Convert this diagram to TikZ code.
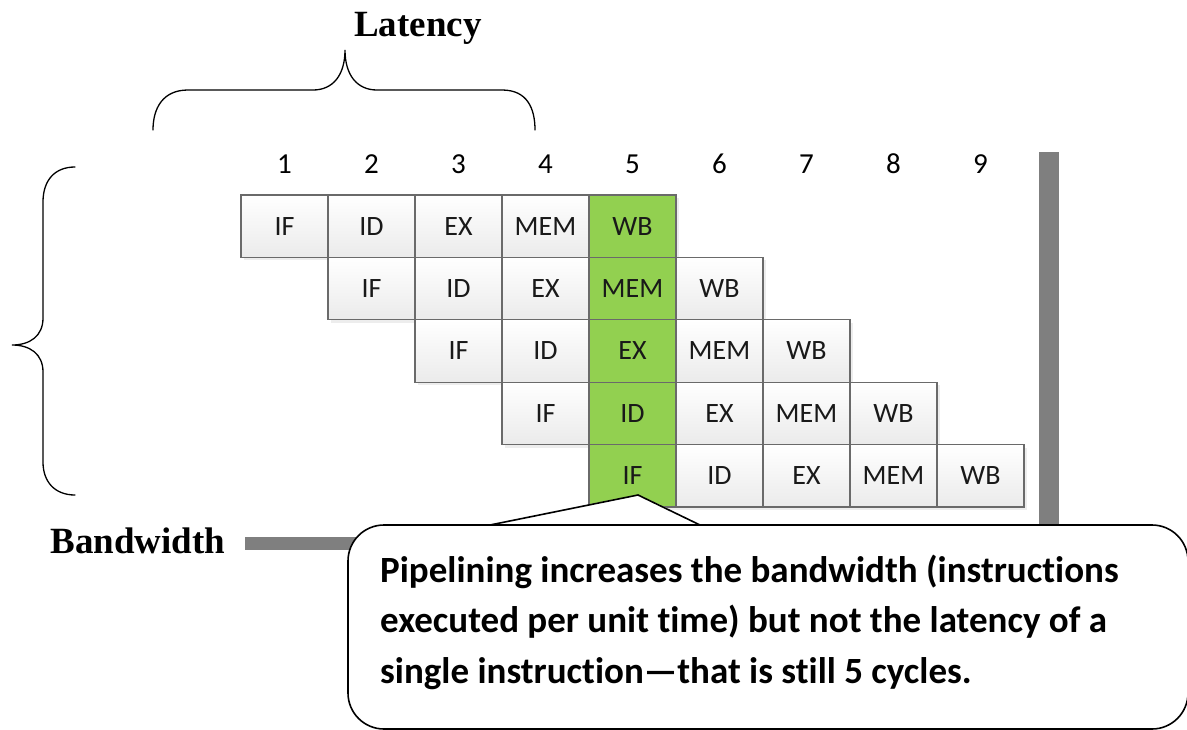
\documentclass[tikz,border=0pt]{standalone}
\usepackage{fontspec}
\setmainfont{Carlito}[Ligatures=NoCommon]
\newfontfamily\timesfont{Liberation Serif}
\definecolor{stagegreen}{HTML}{92D050}
\definecolor{stageline}{HTML}{6A6A6A}
\definecolor{axisgrey}{HTML}{7F7F7F}
\begin{document}
\begin{tikzpicture}[x=1pt,y=-1pt,
  cellbase/.style={draw=stageline, line width=1.1pt, minimum width=87pt,
    minimum height=62.4pt, inner sep=0pt, text=black!90,
    font=\fontsize{28}{30}\selectfont},
  plaincell/.style={cellbase, top color=white, bottom color=black!8},
  hotcell/.style={cellbase, fill=stagegreen},
  cyclenum/.style={font=\fontsize{29}{31}\selectfont, inner sep=0pt},
  axislabel/.style={font=\timesfont\bfseries\fontsize{37}{40}\selectfont, inner sep=0pt},
  brace/.style={line width=1.3pt, line cap=round},
  callout/.style={draw, line width=1.6pt, fill=white, rounded corners=36pt,
    minimum width=840pt, minimum height=204pt, inner sep=0pt}
]
\useasboundingbox (0,0) rectangle (1187,729);
\clip (0,0) rectangle (1187,729);

% cycle numbers
\foreach \k in {1,...,9}
  \node[cyclenum] (h\k) at ({284.5+87*(\k-1)},164) {\k};

% soft shadows under each instruction row
\foreach \r in {1,...,5}
  \fill[black!7] ({241+87*(\r-1)+3},{195+62.4*(\r-1)+3}) rectangle ++(435,62.4);

% pipeline stages: instruction r, stage s sits in cycle r+s-1
\foreach \r in {1,...,5}{
  \foreach \lab [count=\s] in {IF,ID,EX,MEM,WB}{
    \pgfmathtruncatemacro\c{\r+\s-1}
    \def\sty{plaincell}
    \ifnum\c=5 \def\sty{hotcell}\fi
    \node[\sty] (c\r-\s) at ({284.5+87*(\c-1)},{226.2+62.4*(\r-1)}) {\lab};
  }
}

% axes
\fill[axisgrey] (1039,152) rectangle (1059,560);
\fill[axisgrey] (245,537) rectangle (420,550);

% braces
\draw[brace] (153,130) .. controls (153,108) and (163,90) .. (188,90)
  -- (313,90) .. controls (333,90) and (345,75) .. (345,50)
  .. controls (345,75) and (357,90) .. (377,90)
  -- (502,90) .. controls (527,90) and (535,108) .. (535,130);
\draw[brace] (75,167) .. controls (55,167) and (43,180) .. (43,202)
  -- (43,318) .. controls (43,336) and (30,345) .. (12,345)
  .. controls (30,345) and (43,354) .. (43,372)
  -- (43,462) .. controls (43,482) and (55,495) .. (75,495);

% labels
\node[axislabel] (lat) at (418,28) {Latency};
\node[axislabel] (bw) at (138,541) {Bandwidth};

% callout
\node[callout] (note) at (768,627) {};
\coordinate (tip) at (638,495);
\coordinate (baseL) at (490,525);
\coordinate (baseR) at (700,525);
\fill[white] ([yshift=2pt]baseL) -- (tip) -- ([yshift=2pt]baseR) -- cycle;
\draw[line width=1.6pt, line join=miter] (baseL) -- (tip) -- (baseR);
\node[anchor=base west, align=left, inner sep=0pt,
  font=\bfseries\fontsize{37}{50.5}\selectfont] (notetext) at (380,683)
  {Pipelining increases the bandwidth (instructions\\
   executed per unit time) but not the latency of a\\
   single instruction---that is still 5 cycles.};
\end{tikzpicture}
\end{document}
